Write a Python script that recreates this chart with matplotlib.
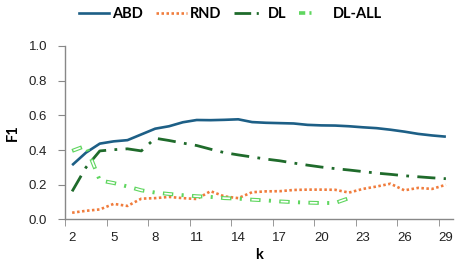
import numpy as np
import matplotlib
matplotlib.use("Agg")
import matplotlib.pyplot as plt
from matplotlib.lines import Line2D
from matplotlib.legend_handler import HandlerTuple

plt.rcParams["lines.scale_dashes"] = False

k = list(range(2, 30))
abd = [0.313, 0.385, 0.437, 0.450, 0.457, 0.490, 0.523, 0.537, 0.560, 0.573,
       0.572, 0.574, 0.577, 0.561, 0.557, 0.555, 0.553, 0.545, 0.542, 0.541,
       0.537, 0.531, 0.526, 0.517, 0.506, 0.493, 0.484, 0.477]
rnd = [0.039, 0.050, 0.058, 0.090, 0.078, 0.120, 0.123, 0.130, 0.123, 0.118,
       0.163, 0.133, 0.123, 0.157, 0.162, 0.163, 0.170, 0.172, 0.172, 0.171,
       0.155, 0.176, 0.190, 0.206, 0.168, 0.182, 0.176, 0.200]
dl = [0.162, 0.300, 0.395, 0.402, 0.407, 0.395, 0.468, 0.455, 0.440, 0.426,
      0.405, 0.385, 0.372, 0.360, 0.348, 0.338, 0.325, 0.313, 0.302, 0.293,
      0.285, 0.276, 0.267, 0.260, 0.252, 0.246, 0.240, 0.235]
k_all = list(range(2, 23))
dl_all = [0.395, 0.425, 0.225, 0.210, 0.190, 0.168, 0.155, 0.147, 0.140, 0.134,
          0.130, 0.123, 0.120, 0.114, 0.110, 0.104, 0.100, 0.097, 0.095, 0.095,
          0.123]

c_abd = "#1d5f86"
c_rnd = "#f07c3c"
c_dl = "#1f6b2b"
c_all = "#5fd65f"

fig = plt.figure(figsize=(4.56, 2.73), dpi=100)
ax = fig.add_axes([0.143, 0.196, 0.85, 0.636])

ax.plot(k, abd, color=c_abd, lw=1.9, solid_capstyle="butt")
ax.plot(k, rnd, color=c_rnd, lw=1.9, dashes=(1.8, 1.8))
ax.plot(k, dl, color=c_dl, lw=2.0, dashes=(13, 6, 2, 6))

# hollow dash-dot: light green line with a thin white core on the long dashes
period = 7.5 + 6 + 1.5 + 6
green_ls = (0, (7.5, 6, 1.5, 6))
core_ls = (period - 1, (5.5, period - 5.5))
ax.plot(k_all, dl_all, color=c_all, lw=2.8, linestyle=green_ls)
ax.plot(k_all, dl_all, color="white", lw=1.2, linestyle=core_ls)

ax.set_xlim(1.5, 29.5)
ax.set_ylim(0, 1.0)
ax.set_xticks(range(2, 30, 3))
ax.set_xticks([x - 0.5 for x in range(2, 30, 3)], minor=True)
ax.tick_params(axis="x", which="major", length=0, pad=9, labelsize=9.5)
ax.tick_params(axis="x", which="minor", length=5, color="#888888")
ax.set_yticks(np.arange(0, 1.01, 0.2))
ax.set_yticklabels(["0.0", "0.2", "0.4", "0.6", "0.8", "1.0"])
ax.tick_params(axis="y", length=5, color="#888888", labelsize=9.5, pad=8)
for lab in ax.get_xticklabels() + ax.get_yticklabels():
    lab.set_family("Liberation Sans")
    lab.set_color("#222222")

for s in ["top", "right"]:
    ax.spines[s].set_visible(False)
for s in ["left", "bottom"]:
    ax.spines[s].set_color("#888888")
    ax.spines[s].set_linewidth(1.0)

ax.set_xlabel("k", fontsize=10.5, fontweight="bold", family="Lato", labelpad=3)
ax.set_ylabel("F1", fontsize=10.5, fontweight="bold", family="Lato", labelpad=6)

# legend handles (short patterns so each shows its full style)
leg_period = 4.5 + 3 + 1.5 + 3.5 + 1.5 + 10
h_abd = Line2D([], [], color=c_abd, lw=1.9)
h_rnd = Line2D([], [], color=c_rnd, lw=1.9, dashes=(1.8, 1.8))
h_dl = Line2D([], [], color=c_dl, lw=2.0, dashes=(12, 4, 1.5, 10))
h_all1 = Line2D([], [], color=c_all, lw=2.6, linestyle=(0, (4.5, 3, 1.5, 3.5, 1.5, 10)))
h_all2 = Line2D([], [], color="white", lw=1.1, linestyle=(leg_period - 1, (2.5, leg_period - 2.5)))
fig.legend([h_abd, h_rnd, h_dl, (h_all1, h_all2)], ["ABD", "RND", "DL", "DL-ALL"],
           handler_map={tuple: HandlerTuple(ndivide=None, pad=0)},
           loc="center", bbox_to_anchor=(0.505, 0.948), ncol=4, frameon=False,
           handlelength=2.1, handletextpad=0.2, columnspacing=0.9,
           prop={"family": "Lato", "weight": "bold", "size": 10.5})

fig.savefig("out.png", dpi=100)
